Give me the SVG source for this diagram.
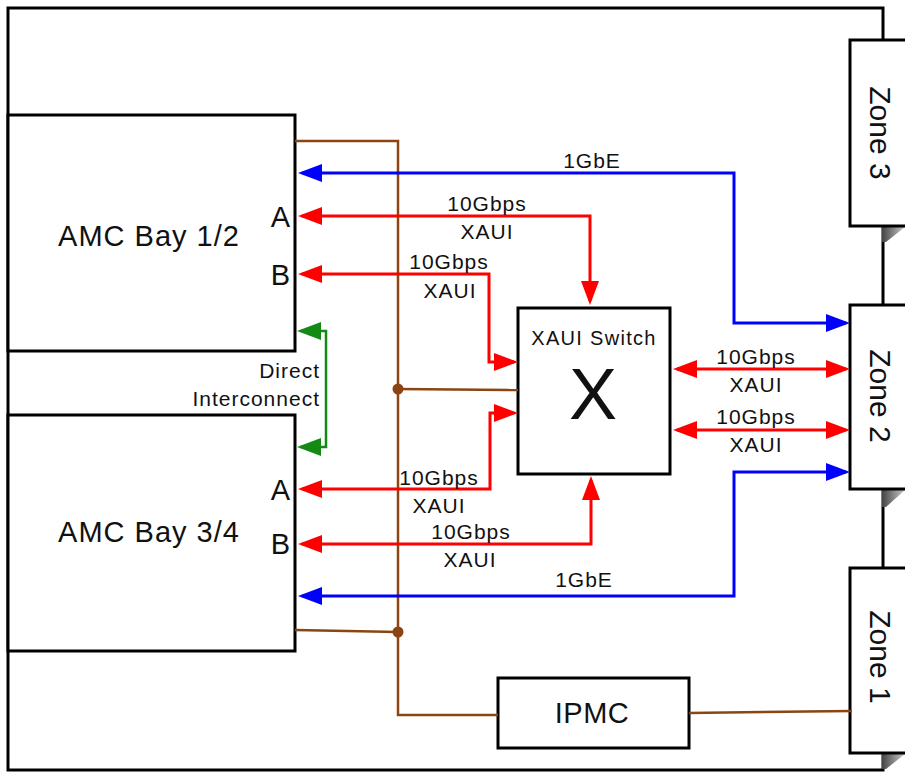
<svg xmlns="http://www.w3.org/2000/svg" width="905" height="773" viewBox="0 0 905 773">
<style>
text{font-family:"Liberation Sans",Arial,sans-serif;fill:#111}
.box{fill:#fff;stroke:#000;stroke-width:3}
.lbl{font-size:21px;letter-spacing:1px;text-anchor:middle}
.big{font-size:29px;letter-spacing:1px}
.zone{font-size:30px;text-anchor:middle}
.red{fill:none;stroke:#f00;stroke-width:3;marker-start:url(#ar);marker-end:url(#ar)}
.blue{fill:none;stroke:#00f;stroke-width:3;marker-start:url(#ab);marker-end:url(#ab)}
.green{fill:none;stroke:#138a13;stroke-width:2.5;marker-start:url(#ag);marker-end:url(#ag)}
.brown{fill:none;stroke:#8b4513;stroke-width:2.5}
.shadow{fill:url(#sg)}
</style>
<defs>
<marker id="ar" markerUnits="userSpaceOnUse" markerWidth="24" markerHeight="18" refX="20" refY="9" orient="auto-start-reverse"><path d="M0,0 L24,9 L0,18 z" fill="#f00"/></marker>
<marker id="ab" markerUnits="userSpaceOnUse" markerWidth="24" markerHeight="18" refX="20" refY="9" orient="auto-start-reverse"><path d="M0,0 L24,9 L0,18 z" fill="#00f"/></marker>
<marker id="ag" markerUnits="userSpaceOnUse" markerWidth="24" markerHeight="18" refX="20" refY="9" orient="auto-start-reverse"><path d="M0,0 L24,9 L0,18 z" fill="#138a13"/></marker>
<linearGradient id="sg" x1="0" y1="0" x2="1" y2="0"><stop offset="0" stop-color="#444"/><stop offset="1" stop-color="#ccc"/></linearGradient>
</defs>

<g id="frame"><rect x="8" y="8" width="875" height="762" fill="#fff" stroke="#000" stroke-width="3"/></g>

<g id="shadows">
<polygon class="shadow" points="882,227 905,227 886,242 882,242"/>
<polygon class="shadow" points="882,490 905,490 886,507 882,507"/>
<polygon class="shadow" points="882,754 905,754 886,769 882,769"/>
</g>

<g id="zone3"><rect class="box" x="850" y="40" width="60" height="186"/><text class="zone" transform="translate(870,133) rotate(90)">Zone 3</text></g>
<g id="zone2"><rect class="box" x="850" y="305" width="60" height="184"/><text class="zone" transform="translate(870,396) rotate(90)">Zone 2</text></g>
<g id="zone1"><rect class="box" x="850" y="568" width="60" height="185"/><text class="zone" transform="translate(870,657) rotate(90)">Zone 1</text></g>

<g id="amc12"><rect class="box" x="8" y="115" width="287" height="236"/>
<text class="big" x="149" y="246" text-anchor="middle">AMC Bay 1/2</text>
<text class="big" x="291" y="227" text-anchor="end" letter-spacing="0">A</text>
<text class="big" x="291" y="285" text-anchor="end" letter-spacing="0">B</text></g>

<g id="amc34"><rect class="box" x="8" y="415" width="287" height="236"/>
<text class="big" x="149" y="542" text-anchor="middle">AMC Bay 3/4</text>
<text class="big" x="291" y="500" text-anchor="end" letter-spacing="0">A</text>
<text class="big" x="291" y="554" text-anchor="end" letter-spacing="0">B</text></g>

<g id="switch"><rect class="box" x="518" y="308" width="152" height="166"/>
<text x="594" y="345" text-anchor="middle" font-size="20" letter-spacing="1.3">XAUI Switch</text>
<text x="593" y="419" text-anchor="middle" font-size="72">X</text></g>

<g id="ipmc"><rect class="box" x="498" y="678" width="191" height="70"/>
<text x="592" y="723" text-anchor="middle" font-size="29" letter-spacing="0.5">IPMC</text></g>

<g id="connectors">
<path class="brown" d="M295,141 H398 V715 H498"/>
<path class="brown" d="M398,389 L518,390"/>
<path class="brown" d="M295,630 L398,632"/>
<path class="brown" d="M689,713 L852,711"/>
<circle cx="398" cy="389" r="5.5" fill="#8b4513"/>
<circle cx="398" cy="632" r="5.5" fill="#8b4513"/>

<path class="blue" d="M302,173 H734 V323 H846"/>
<path class="blue" d="M302,596 H734 V472 H846"/>

<path class="red" d="M302,216 H590 V301"/>
<path class="red" d="M302,274 H489 V362 H514"/>
<path class="red" d="M302,489 H490 V413 H514"/>
<path class="red" d="M302,544 H591 V480"/>
<path class="red" d="M677,369 H846"/>
<path class="red" d="M677,430 H846"/>

<path class="green" d="M301,331 H326 V447 H301"/>
</g>

<g id="labels">
<text class="lbl" x="592" y="168">1GbE</text>
<text class="lbl" x="487" y="211">10Gbps</text>
<text class="lbl" x="487" y="239">XAUI</text>
<text class="lbl" x="449" y="269">10Gbps</text>
<text class="lbl" x="450" y="298">XAUI</text>
<text class="lbl" x="320" y="378" text-anchor="end" style="text-anchor:end">Direct</text>
<text class="lbl" x="320" y="406" style="text-anchor:end">Interconnect</text>
<text class="lbl" x="756" y="364">10Gbps</text>
<text class="lbl" x="756" y="392">XAUI</text>
<text class="lbl" x="756" y="424">10Gbps</text>
<text class="lbl" x="756" y="452">XAUI</text>
<text class="lbl" x="439" y="485">10Gbps</text>
<text class="lbl" x="439" y="513">XAUI</text>
<text class="lbl" x="471" y="539">10Gbps</text>
<text class="lbl" x="470" y="567">XAUI</text>
<text class="lbl" x="584" y="587">1GbE</text>
</g>
</svg>
